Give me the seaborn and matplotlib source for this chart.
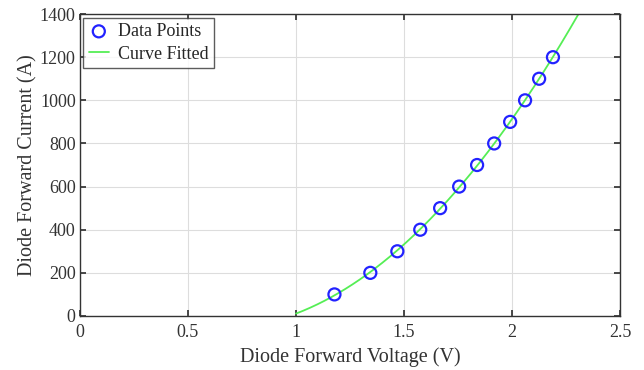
import numpy as np
import matplotlib
matplotlib.use("Agg")
import matplotlib.pyplot as plt
import seaborn as sns
import pandas as pd

voltage = [1.178, 1.344, 1.469, 1.575, 1.667, 1.755, 1.838, 1.917, 1.991, 2.060, 2.125, 2.189]
current = [100, 200, 300, 400, 500, 600, 700, 800, 900, 1000, 1100, 1200]

x_ticks = [0, 0.5, 1, 1.5, 2, 2.5]
x_tick_labels = ["0", "0.5", "1", "1.5", "2", "2.5"]
y_ticks = [0, 200, 400, 600, 800, 1000, 1200, 1400]

sns.set_theme(style="whitegrid")
plt.rcParams['font.family'] = ['Liberation Serif', 'DejaVu Serif']

fig = plt.figure(figsize=(6.44, 3.70), dpi=100)
ax = fig.add_axes([0.124, 0.146, 0.839, 0.816])

coef = np.polyfit(voltage, current, 2)
vfit = np.linspace(1.0, 2.4, 300)
ifit = np.polyval(coef, vfit)
fit_df = pd.DataFrame({"V": vfit, "I": ifit})
pts_df = pd.DataFrame({"V": voltage, "I": current})

sns.lineplot(data=fit_df, x="V", y="I", ax=ax, color="#55EE55", lw=1.3, label="Curve Fitted", zorder=2)
sns.scatterplot(data=pts_df, x="V", y="I", ax=ax, marker="o", s=75, facecolors="none",
                edgecolor="#2222FF", linewidth=1.6, label="Data Points", zorder=3)

ax.set_xlim(0, 2.5)
ax.set_ylim(0, 1400)
ax.set_xticks(x_ticks)
ax.set_xticklabels(x_tick_labels)
ax.set_yticks(y_ticks)
ax.grid(True, color="#DDDDDD", lw=0.8)
ax.set_facecolor("white")
for s in ax.spines.values():
    s.set_visible(True)
    s.set_color("#333333")
    s.set_linewidth(1.0)
ax.tick_params(axis="both", direction="in", length=4, colors="#333333", labelsize=13,
               top=True, right=True, bottom=True, left=True, labelcolor="#333333")
ax.tick_params(axis="x", pad=6)
ax.tick_params(axis="y", pad=3)
ax.set_xlabel("Diode Forward Voltage (V)", fontsize=14.5, color="#333333", labelpad=4)
ax.set_ylabel("Diode Forward Current (A)", fontsize=14.5, color="#333333", labelpad=2)

h, l = ax.get_legend_handles_labels()
order = [l.index("Data Points"), l.index("Curve Fitted")]
leg = ax.legend([h[i] for i in order], [l[i] for i in order], loc="upper left",
                fontsize=13, frameon=True, fancybox=False, edgecolor="#333333",
                borderaxespad=0.2, handlelength=1.1, handletextpad=0.5,
                borderpad=0.3, labelspacing=0.3)
leg.get_frame().set_linewidth(1.0)

fig.savefig("out.png", dpi=100)
